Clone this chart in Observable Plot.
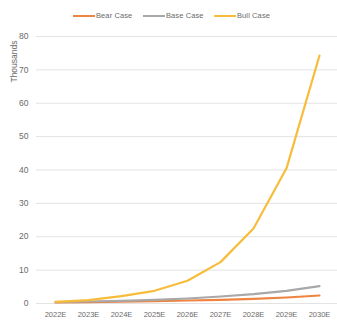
<!DOCTYPE html>
<html>
<head>
<meta charset="utf-8">
<script src="https://cdn.jsdelivr.net/npm/d3@7"></script>
<script src="https://cdn.jsdelivr.net/npm/@observablehq/plot@0.6"></script>
<style>
  html, body { margin: 0; padding: 0; background: #fff; }
  #wrap { width: 337px; font-family: "Liberation Sans", Arial, sans-serif; }
  .legend { position: relative; height: 26px; }
  .item { position: absolute; top: 11px; display: flex; align-items: center; font-size: 7.5px; color: #6a6a6a; letter-spacing: 0.1px; }
  .swatch { width: 22px; height: 2px; margin-right: 1px; }
</style>
</head>
<body>
<div id="wrap">
  <div class="legend" id="legend"></div>
  <div id="chart"></div>
</div>
<script>
// Projected values (thousands) for each scenario
const years = ["2022E", "2023E", "2024E", "2025E", "2026E", "2027E", "2028E", "2029E", "2030E"];
const bearCase = [0.3, 0.4, 0.55, 0.7, 0.9, 1.1, 1.4, 1.8, 2.4];
const baseCase = [0.4, 0.6, 0.8, 1.1, 1.5, 2.1, 2.8, 3.8, 5.2];
const bullCase = [0.5, 1.0, 2.2, 3.8, 6.8, 12.4, 22.5, 40.5, 74.3];
const seriesNames = ["Bear Case", "Base Case", "Bull Case"];
const seriesColors = ["#EE8440", "#A8A8A8", "#F7BD3A"];
const yTicks = [0, 10, 20, 30, 40, 50, 60, 70, 80];

const seriesValues = [bearCase, baseCase, bullCase];
const rows = seriesNames.flatMap((name, s) =>
  years.map((year, i) => ({ series: name, year, value: seriesValues[s][i] }))
);

// Legend row
const legendX = [73, 143, 214];
const legend = document.getElementById("legend");
seriesNames.forEach((name, i) => {
  const item = document.createElement("div");
  item.className = "item";
  item.style.left = legendX[i] + "px";
  const sw = document.createElement("span");
  sw.className = "swatch";
  sw.style.background = seriesColors[i];
  const label = document.createElement("span");
  label.textContent = name;
  item.append(sw, label);
  legend.append(item);
});

const chart = Plot.plot({
  width: 337,
  height: 294,
  marginTop: 10,
  marginBottom: 17,
  marginLeft: 36,
  marginRight: 0,
  style: { fontFamily: "Liberation Sans, Arial, sans-serif", color: "#6a6a6a", background: "#fff" },
  x: { type: "point", domain: years, padding: 0.5, label: null },
  y: { domain: [0, 80], ticks: yTicks, label: null },
  color: { domain: seriesNames, range: seriesColors },
  marks: [
    Plot.ruleY(yTicks, { stroke: "#e3e3e3", strokeWidth: 1 }),
    Plot.axisY({ ticks: yTicks, tickSize: 0, tickPadding: 8, fontSize: 8.5, label: null }),
    Plot.axisX({ tickSize: 0, tickPadding: 8, fontSize: 7.5, label: null }),
    Plot.text(["Thousands"], { frameAnchor: "top-left", textAnchor: "end", dx: -26, dy: 4, rotate: -90, fontSize: 8.5, fill: "#6a6a6a" }),
    Plot.line(rows, { x: "year", y: "value", z: "series", stroke: "series", strokeWidth: 2.2, curve: "linear" })
  ]
});
document.getElementById("chart").append(chart);
</script>
</body>
</html>
